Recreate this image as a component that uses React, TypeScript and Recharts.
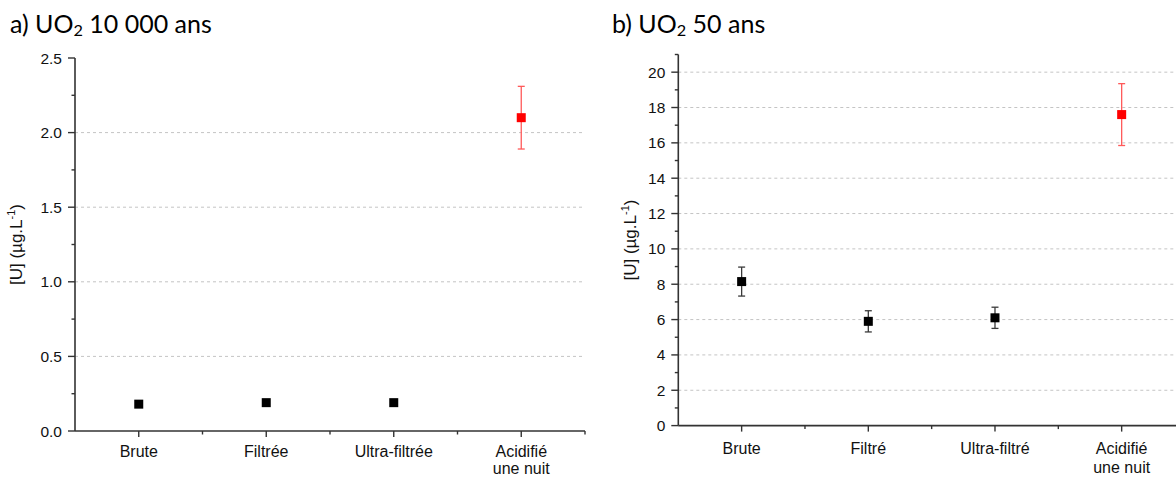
import React from 'react'
import {
  CartesianGrid,
  ErrorBar,
  Label,
  Scatter,
  ScatterChart,
  XAxis,
  YAxis
} from 'recharts'

// a) UO2 10 000 ans
const categoriesA = ['Brute', 'Filtrée', 'Ultra-filtrée', 'Acidifié\nune nuit']
const valuesA = [0.18, 0.19, 0.19, 2.1]
const errorsA = [0, 0, 0, 0.21]
const yTicksA = [0, 0.25, 0.5, 0.75, 1, 1.25, 1.5, 1.75, 2, 2.25, 2.5]
const yGridA = [0.5, 1, 1.5, 2]

// b) UO2 50 ans
const categoriesB = ['Brute', 'Filtré', 'Ultra-filtré', 'Acidifié\nune nuit']
const valuesB = [8.15, 5.9, 6.1, 17.6]
const errorsB = [0.82, 0.6, 0.6, 1.75]
const yTicksB = [0, 1, 2, 3, 4, 5, 6, 7, 8, 9, 10, 11, 12, 13, 14, 15, 16, 17, 18, 19, 20, 21]
const yGridB = [2, 4, 6, 8, 10, 12, 14, 16, 18, 20]

const xTicks = [1, 1.5, 2, 2.5, 3, 3.5, 4, 4.5]
const acidIndex = 3

const axisColor = '#333333'
const tickFont = '"Liberation Sans", Arial, sans-serif'

const Square = (props: any) => {
  const {cx, cy, fill} = props
  return <rect x={cx - 4.5} y={cy - 4.5} width={9} height={9} fill={fill} />
}

const XTick = ({x, y, payload, labels, first, gap}: any) => {
  const v = payload.value
  const major = Number.isInteger(v)
  const lines: string[] = major ? labels[v - 1].split('\n') : []
  return (
    <g>
      <line x1={x} x2={x} y1={y} y2={y + (major ? 6 : 3.5)} stroke={axisColor} strokeWidth={1.4} />
      {lines.map((l, i) => (
        <text key={i} x={x} y={y + first + i * gap} textAnchor='middle' fontSize={16} fontFamily={tickFont} fill='#111'>
          {l}
        </text>
      ))}
    </g>
  )
}

const YTick = ({x, y, payload, step, digits}: any) => {
  const v = payload.value
  const major = Math.abs(v / step - Math.round(v / step)) < 1e-6
  return (
    <g>
      <line x1={x} x2={x - (major ? 7 : 3.5)} y1={y} y2={y} stroke={axisColor} strokeWidth={1.4} />
      {major && (
        <text x={x - 13} y={y} dy='0.36em' textAnchor='end' fontSize={15.5} fontFamily={tickFont} fill='#111'>
          {v.toFixed(digits)}
        </text>
      )}
    </g>
  )
}

const YLabel = ({viewBox, cxAbs}: any) => {
  const cy = viewBox.y + viewBox.height / 2
  return (
    <text
      x={cxAbs}
      y={cy}
      transform={`rotate(-90, ${cxAbs}, ${cy})`}
      textAnchor='middle'
      dy='0.36em'
      fontSize={17}
      fontFamily={tickFont}
      fill='#111'
    >
      [U] (µg.L<tspan dy={-7} fontSize={11}>-1</tspan>
      <tspan dy={7}>)</tspan>
    </text>
  )
}

const Panel = ({categories, values, errors, yDomain, yTicks, yGrid, step, digits, top, yAxisWidth, xAxisHeight, labelX, first, gap}: any) => {
  const rows = categories.map((c: string, i: number) => ({x: i + 1, y: values[i], err: errors[i]}))
  const blackRows = rows.filter((_: any, i: number) => i !== acidIndex)
  const redRows = rows.filter((_: any, i: number) => i === acidIndex)
  return (
    <ScatterChart width={600} height={477} margin={{top, right: 15, bottom: 0, left: 0}}>
      <CartesianGrid vertical={false} horizontalValues={yGrid} stroke='#c4c4c4' strokeDasharray='3 3' />
      <XAxis
        type='number'
        dataKey='x'
        domain={[0.5, 4.5]}
        ticks={xTicks}
        interval={0}
        height={xAxisHeight}
        tickSize={0}
        tickMargin={0}
        tickLine={false}
        axisLine={{stroke: axisColor, strokeWidth: 1.6}}
        tick={(p: any) => <XTick {...p} labels={categories} first={first} gap={gap} />}
      />
      <YAxis
        type='number'
        dataKey='y'
        domain={yDomain}
        ticks={yTicks}
        interval={0}
        width={yAxisWidth}
        tickSize={0}
        tickMargin={0}
        tickLine={false}
        axisLine={{stroke: axisColor, strokeWidth: 1.6}}
        tick={(p: any) => <YTick {...p} step={step} digits={digits} />}
      >
        <Label content={(p: any) => <YLabel {...p} cxAbs={labelX} />} />
      </YAxis>
      <Scatter data={blackRows} fill='#000000' shape={Square} isAnimationActive={false}>
        <ErrorBar dataKey='err' direction='y' width={3.5} stroke='#3a3a3a' strokeWidth={1.3} />
      </Scatter>
      <Scatter data={redRows} fill='#ff0000' shape={Square} isAnimationActive={false}>
        <ErrorBar dataKey='err' direction='y' width={3.5} stroke='#ff5a5a' strokeWidth={1.3} />
      </Scatter>
    </ScatterChart>
  )
}

const titleStyle: React.CSSProperties = {
  position: 'absolute',
  top: 8,
  fontFamily: 'Lato, "Open Sans", sans-serif',
  fontSize: 25,
  lineHeight: '30px',
  color: '#000',
  whiteSpace: 'nowrap'
}
const subStyle: React.CSSProperties = {fontSize: '0.65em', verticalAlign: '-0.2em', lineHeight: 0}

export default function App() {
  return (
    <div style={{position: 'absolute', left: 0, top: 0, width: 1176, height: 477, overflow: 'hidden', background: '#fff'}}>
      <div style={{position: 'absolute', left: 0, top: 0}}>
        <Panel
          categories={categoriesA}
          values={valuesA}
          errors={errorsA}
          yDomain={[0, 2.5]}
          yTicks={yTicksA}
          yGrid={yGridA}
          step={0.5}
          digits={1}
          top={58}
          yAxisWidth={75}
          xAxisHeight={46}
          labelX={16}
          first={26}
          gap={17}
        />
      </div>
      <div style={{position: 'absolute', left: 600, top: 0}}>
        <Panel
          categories={categoriesB}
          values={valuesB}
          errors={errorsB}
          yDomain={[0, 21]}
          yTicks={yTicksB}
          yGrid={yGridB}
          step={2}
          digits={0}
          top={54.5}
          yAxisWidth={78.3}
          xAxisHeight={51.4}
          labelX={29.6}
          first={28}
          gap={19}
        />
      </div>
      <div style={{...titleStyle, left: 10}}>
        a) UO<sub style={subStyle}>2</sub> 10 000 ans
      </div>
      <div style={{...titleStyle, left: 612}}>
        b) UO<sub style={subStyle}>2</sub> 50 ans
      </div>
    </div>
  )
}
